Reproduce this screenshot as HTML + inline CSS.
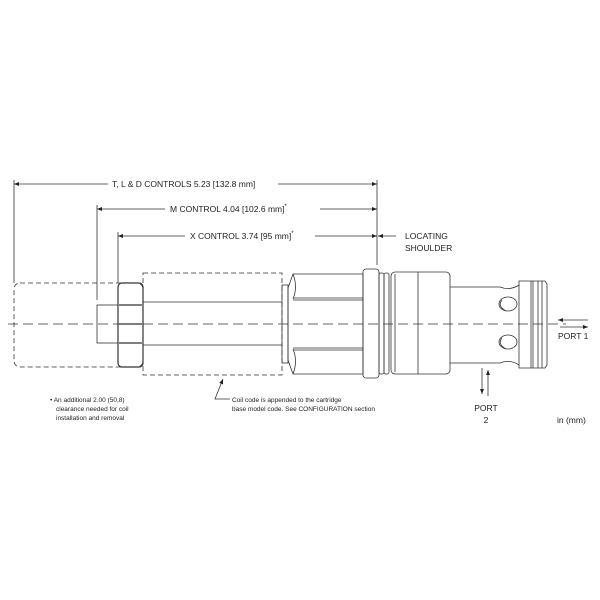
<!DOCTYPE html>
<html><head><meta charset="utf-8"><style>
html,body{margin:0;padding:0;background:#fff}
svg{display:block}
text{font-family:"Liberation Sans",sans-serif;fill:#222}
</style></head><body>
<svg width="600" height="600" viewBox="0 0 600 600" xmlns="http://www.w3.org/2000/svg">
<defs>
<marker id="a" viewBox="0 0 10 10" refX="10" refY="5" markerUnits="userSpaceOnUse" markerWidth="8" markerHeight="5" orient="auto-start-reverse"><path d="M0,1 L10,5 L0,9 z" fill="#222"/></marker>
</defs>
<g stroke="#333" stroke-width="0.8" fill="none">
<line x1="14" y1="180" x2="14" y2="283"/>
<line x1="97" y1="205" x2="97" y2="300"/>
<line x1="118" y1="232" x2="118" y2="283"/>
<line x1="377" y1="180" x2="377" y2="265"/>
<line x1="14" y1="184" x2="108" y2="184" marker-start="url(#a)"/>
<line x1="278" y1="184" x2="377" y2="184" marker-end="url(#a)"/>
<line x1="97" y1="209" x2="165" y2="209" marker-start="url(#a)"/>
<line x1="320" y1="209" x2="377" y2="209" marker-end="url(#a)"/>
<line x1="118" y1="236" x2="185" y2="236" marker-start="url(#a)"/>
<line x1="315" y1="236" x2="377" y2="236" marker-end="url(#a)"/>
<line x1="396" y1="236" x2="378" y2="236" marker-end="url(#a)"/>
<rect x="14" y="283" width="129" height="84" rx="6" stroke-dasharray="5,3"/>
<rect x="143" y="273" width="139" height="102" stroke-dasharray="5,3"/>
<rect x="97" y="305" width="21" height="38"/>
<rect x="118" y="283" width="25" height="84" rx="4" stroke-width="1.2"/>
<line x1="119" y1="305" x2="142" y2="305" stroke-width="1.2"/>
<line x1="119" y1="324" x2="142" y2="324" stroke-width="1.2"/>
<line x1="119" y1="343" x2="142" y2="343" stroke-width="1.2"/>
<line x1="143" y1="302" x2="282" y2="302"/>
<line x1="143" y1="345" x2="282" y2="345"/>
<rect x="282" y="285" width="6" height="78"/>
<path d="M288,288 L293,274 L363,274 L363,374 L293,374 L288,360 Z"/>
<line x1="293" y1="298" x2="363" y2="298"/><line x1="293" y1="300" x2="363" y2="300"/>
<line x1="293" y1="348" x2="363" y2="348"/><line x1="293" y1="350" x2="363" y2="350"/>
<path d="M293,274 Q298,287 293,299 M293,374 Q298,361 293,349"/>
<rect x="363" y="269" width="16" height="109" rx="3"/>
<rect x="379" y="273" width="5" height="101" rx="2"/>
<rect x="384" y="273" width="5" height="101" rx="2"/>
<rect x="391" y="272" width="59" height="102" rx="4"/>
<line x1="395" y1="274" x2="395" y2="372"/>
<line x1="418" y1="272" x2="418" y2="374"/>
<path d="M450,287 L500,287 Q510,291 519,285 M450,363 L500,363 Q510,359 519,365"/>
<ellipse cx="508" cy="304" rx="9" ry="7"/>
<path d="M502,300 Q497,306 506,311"/>
<ellipse cx="508" cy="342" rx="9" ry="7"/>
<path d="M502,338 Q497,344 506,349"/>
<path d="M519,281 L545,281 L547,284 L547,365 L545,368 L519,368 Z"/>
<line x1="531" y1="281" x2="531" y2="368"/>
<line x1="533" y1="281" x2="533" y2="368"/>
<line x1="538" y1="281" x2="538" y2="368"/>
<line x1="542" y1="281" x2="542" y2="368"/>
<line x1="8" y1="324" x2="566" y2="324" stroke-dasharray="10,5"/>
<line x1="588" y1="320" x2="558" y2="320" marker-end="url(#a)"/>
<line x1="560" y1="327" x2="588" y2="327" marker-end="url(#a)"/>
<line x1="482" y1="368" x2="482" y2="394" marker-end="url(#a)"/>
<line x1="488" y1="396" x2="488" y2="370" marker-end="url(#a)"/>
<polyline points="230,399 215,399 223,379" marker-end="url(#a)"/>
</g>
<g font-size="8.5">
<text x="112" y="187">T, L &amp; D CONTROLS 5.23 [132.8 mm]</text>
<text x="170" y="212">M CONTROL 4.04 [102.6 mm]<tspan dy="-4" font-size="6">*</tspan></text>
<text x="190" y="239">X CONTROL 3.74 [95 mm]<tspan dy="-4" font-size="6">*</tspan></text>
<text x="405" y="239">LOCATING</text>
<text x="405" y="251">SHOULDER</text>
<text x="558" y="339">PORT 1</text>
<text x="486" y="411" text-anchor="middle">PORT</text>
<text x="486" y="423" text-anchor="middle">2</text>
<text x="557" y="423">in (mm)</text>
</g>
<g font-size="6.5">
<text x="50" y="402">• An additional 2.00 (50,8)</text>
<text x="56" y="411">clearance needed for coil</text>
<text x="56" y="420">installation and removal</text>
<text x="232" y="402">Coil code is appended to the cartridge</text>
<text x="232" y="411">base model code. See CONFIGURATION section</text>
</g>
</svg>
</body></html>
